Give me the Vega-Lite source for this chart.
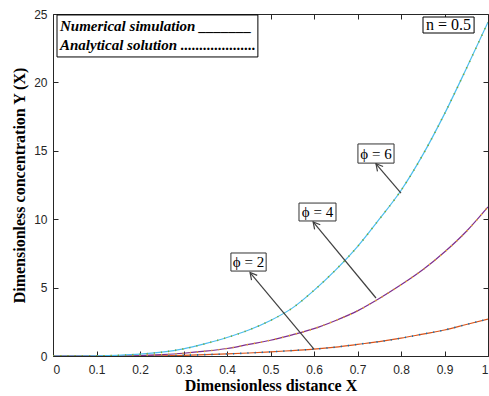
{
  "$schema": "https://vega.github.io/schema/vega-lite/v6.json",
  "width": 435,
  "height": 342,
  "autosize": "none",
  "padding": {"left": 53, "top": 14, "right": 1, "bottom": 40},
  "background": "white",
  "config": {
    "view": {"stroke": null},
    "axis": {
      "domainColor": "#262626",
      "tickColor": "#262626",
      "labelColor": "#262626",
      "labelFont": "Liberation Sans",
      "labelFontSize": 12,
      "labelFontWeight": "normal",
      "tickSize": -5,
      "grid": false,
      "titleFont": "Liberation Serif",
      "titleFontSize": 16,
      "titleFontWeight": "bold",
      "titleColor": "#000000"
    }
  },
  "datasets": {
    "profiles": [
      {"X": 0.0, "phi": 2, "Y": 0.0}, {"X": 0.05, "phi": 2, "Y": 0.0}, {"X": 0.1, "phi": 2, "Y": 0.0},
      {"X": 0.15, "phi": 2, "Y": 0.0}, {"X": 0.2, "phi": 2, "Y": 0.0}, {"X": 0.25, "phi": 2, "Y": 0.02},
      {"X": 0.3, "phi": 2, "Y": 0.05}, {"X": 0.35, "phi": 2, "Y": 0.1}, {"X": 0.4, "phi": 2, "Y": 0.15},
      {"X": 0.45, "phi": 2, "Y": 0.22}, {"X": 0.5, "phi": 2, "Y": 0.3}, {"X": 0.55, "phi": 2, "Y": 0.4},
      {"X": 0.6, "phi": 2, "Y": 0.5}, {"X": 0.65, "phi": 2, "Y": 0.65}, {"X": 0.7, "phi": 2, "Y": 0.85},
      {"X": 0.75, "phi": 2, "Y": 1.05}, {"X": 0.8, "phi": 2, "Y": 1.3}, {"X": 0.85, "phi": 2, "Y": 1.6},
      {"X": 0.9, "phi": 2, "Y": 1.9}, {"X": 0.95, "phi": 2, "Y": 2.3}, {"X": 1.0, "phi": 2, "Y": 2.7},

      {"X": 0.0, "phi": 4, "Y": 0.0}, {"X": 0.05, "phi": 4, "Y": 0.0}, {"X": 0.1, "phi": 4, "Y": 0.0},
      {"X": 0.15, "phi": 4, "Y": 0.0}, {"X": 0.2, "phi": 4, "Y": 0.03}, {"X": 0.25, "phi": 4, "Y": 0.1},
      {"X": 0.3, "phi": 4, "Y": 0.2}, {"X": 0.35, "phi": 4, "Y": 0.35}, {"X": 0.4, "phi": 4, "Y": 0.55},
      {"X": 0.45, "phi": 4, "Y": 0.85}, {"X": 0.5, "phi": 4, "Y": 1.15}, {"X": 0.55, "phi": 4, "Y": 1.55},
      {"X": 0.6, "phi": 4, "Y": 2.0}, {"X": 0.65, "phi": 4, "Y": 2.6}, {"X": 0.7, "phi": 4, "Y": 3.3},
      {"X": 0.75, "phi": 4, "Y": 4.2}, {"X": 0.8, "phi": 4, "Y": 5.2}, {"X": 0.85, "phi": 4, "Y": 6.3},
      {"X": 0.9, "phi": 4, "Y": 7.6}, {"X": 0.95, "phi": 4, "Y": 9.1}, {"X": 1.0, "phi": 4, "Y": 10.9},

      {"X": 0.0, "phi": 6, "Y": 0.0}, {"X": 0.05, "phi": 6, "Y": 0.0}, {"X": 0.1, "phi": 6, "Y": 0.01},
      {"X": 0.15, "phi": 6, "Y": 0.05}, {"X": 0.2, "phi": 6, "Y": 0.13}, {"X": 0.25, "phi": 6, "Y": 0.28},
      {"X": 0.3, "phi": 6, "Y": 0.52}, {"X": 0.35, "phi": 6, "Y": 0.9}, {"X": 0.4, "phi": 6, "Y": 1.35},
      {"X": 0.45, "phi": 6, "Y": 1.9}, {"X": 0.5, "phi": 6, "Y": 2.6}, {"X": 0.55, "phi": 6, "Y": 3.5},
      {"X": 0.6, "phi": 6, "Y": 4.8}, {"X": 0.65, "phi": 6, "Y": 6.3}, {"X": 0.7, "phi": 6, "Y": 8.0},
      {"X": 0.75, "phi": 6, "Y": 10.0}, {"X": 0.8, "phi": 6, "Y": 12.1}, {"X": 0.85, "phi": 6, "Y": 14.7},
      {"X": 0.9, "phi": 6, "Y": 17.7}, {"X": 0.95, "phi": 6, "Y": 21.0}, {"X": 1.0, "phi": 6, "Y": 24.4}
    ],
    "callouts": [
      {"label": "ϕ = 2", "bx1": 0.409, "bx2": 0.49, "by1": 7.53, "by2": 6.21, "tx": 0.4495, "ty": 6.87, "tipX": 0.453, "tipY": 6.1, "tailX": 0.6, "tailY": 0.5},
      {"label": "ϕ = 4", "bx1": 0.5655, "bx2": 0.6506, "by1": 11.18, "by2": 9.87, "tx": 0.608, "ty": 10.52, "tipX": 0.598, "tipY": 9.8, "tailX": 0.7425, "tailY": 4.24},
      {"label": "ϕ = 6", "bx1": 0.701, "bx2": 0.784, "by1": 15.5, "by2": 14.1, "tx": 0.7425, "ty": 14.8, "tipX": 0.7425, "tipY": 14.05, "tailX": 0.8, "tailY": 11.9}
    ],
    "legendBox": [
      {"x1": 0.0092, "x2": 0.471, "y1": 24.93, "y2": 21.86}
    ],
    "legendText": [
      {"X": 0.016, "Y": 23.76, "text": "Numerical simulation _______"},
      {"X": 0.016, "Y": 22.37, "text": "Analytical solution ...................."}
    ],
    "paramBox": [
      {"x1": 0.8506, "x2": 0.968, "y1": 24.78, "y2": 23.61, "X": 0.909, "Y": 24.2, "text": "n = 0.5"}
    ]
  },
  "layer": [
    {
      "layer": [
        {
          "data": {"name": "profiles"},
          "mark": {"type": "line", "strokeWidth": 1.2, "interpolate": "monotone", "clip": true},
          "encoding": {
            "x": {"field": "X", "type": "quantitative", "scale": {"domain": [0, 1], "nice": false},
                  "axis": {"values": [0, 0.1, 0.2, 0.3, 0.4, 0.5, 0.6, 0.7, 0.8, 0.9, 1], "format": "~g", "labelPadding": 13, "title": "Dimensionless distance   X", "titlePadding": 2}},
            "y": {"field": "Y", "type": "quantitative", "scale": {"domain": [0, 25], "nice": false},
                  "axis": {"values": [0, 5, 10, 15, 20, 25], "labelPadding": 11, "title": "Dimensionless concentration   Y (X)", "titlePadding": 6}},
            "color": {"field": "phi", "type": "nominal", "legend": null,
                      "scale": {"domain": [2, 4, 6], "range": ["#D95319", "#7E2F8E", "#4DBEEE"]}},
            "detail": {"field": "phi"}
          }
        },
        {
          "data": {"name": "profiles"},
          "mark": {"type": "line", "strokeWidth": 1.6, "strokeDash": [1.2, 6], "interpolate": "monotone", "clip": true},
          "encoding": {
            "x": {"field": "X", "type": "quantitative"},
            "y": {"field": "Y", "type": "quantitative"},
            "stroke": {"field": "phi", "type": "nominal", "legend": null,
                       "scale": {"domain": [2, 4, 6], "range": ["#0072BD", "#EDB120", "#77AC30"]}},
            "detail": {"field": "phi"}
          }
        },
        {
          "data": {"name": "callouts"},
          "mark": {"type": "rule", "color": "#404040", "strokeWidth": 1.2},
          "encoding": {
            "x": {"field": "tailX", "type": "quantitative"},
            "y": {"field": "tailY", "type": "quantitative"},
            "x2": {"field": "tipX"},
            "y2": {"field": "tipY"}
          }
        },
        {
          "data": {"name": "callouts"},
          "mark": {"type": "point", "shape": "M -0.55 1 L 0 0 L 0.55 1", "filled": false, "stroke": "#404040", "strokeWidth": 1.2, "size": 180, "angle": 320, "opacity": 1},
          "encoding": {
            "x": {"field": "tipX", "type": "quantitative"},
            "y": {"field": "tipY", "type": "quantitative"}
          }
        },
        {
          "data": {"name": "callouts"},
          "mark": {"type": "rect", "fill": "white", "stroke": "#333333", "strokeWidth": 1},
          "encoding": {
            "x": {"field": "bx1", "type": "quantitative"},
            "x2": {"field": "bx2"},
            "y": {"field": "by1", "type": "quantitative"},
            "y2": {"field": "by2"}
          }
        },
        {
          "data": {"name": "callouts"},
          "mark": {"type": "text", "font": "Liberation Serif", "fontSize": 15, "color": "#000000", "align": "center", "baseline": "middle"},
          "encoding": {
            "x": {"field": "tx", "type": "quantitative"},
            "y": {"field": "ty", "type": "quantitative"},
            "text": {"field": "label"}
          }
        },
        {
          "data": {"name": "legendBox"},
          "mark": {"type": "rect", "fill": "white", "stroke": "#000000", "strokeWidth": 1},
          "encoding": {
            "x": {"field": "x1", "type": "quantitative"},
            "x2": {"field": "x2"},
            "y": {"field": "y1", "type": "quantitative"},
            "y2": {"field": "y2"}
          }
        },
        {
          "data": {"name": "legendText"},
          "mark": {"type": "text", "font": "Liberation Serif", "fontSize": 15, "fontWeight": "bold", "fontStyle": "italic", "color": "#000000", "align": "left", "baseline": "alphabetic"},
          "encoding": {
            "x": {"field": "X", "type": "quantitative"},
            "y": {"field": "Y", "type": "quantitative"},
            "text": {"field": "text"}
          }
        },
        {
          "data": {"name": "paramBox"},
          "mark": {"type": "rect", "fill": "white", "stroke": "#000000", "strokeWidth": 1},
          "encoding": {
            "x": {"field": "x1", "type": "quantitative"},
            "x2": {"field": "x2"},
            "y": {"field": "y1", "type": "quantitative"},
            "y2": {"field": "y2"}
          }
        },
        {
          "data": {"name": "paramBox"},
          "mark": {"type": "text", "font": "Liberation Serif", "fontSize": 16, "color": "#000000", "align": "center", "baseline": "middle"},
          "encoding": {
            "x": {"field": "X", "type": "quantitative"},
            "y": {"field": "Y", "type": "quantitative"},
            "text": {"field": "text"}
          }
        }
      ],
      "resolve": {"scale": {"color": "independent", "stroke": "independent"}}
    },
    {
      "data": {"name": "profiles"},
      "mark": {"type": "point", "opacity": 0},
      "encoding": {
        "x": {"field": "X", "type": "quantitative", "scale": {"domain": [0, 1], "nice": false},
              "axis": {"orient": "top", "labels": false, "title": null, "values": [0, 0.1, 0.2, 0.3, 0.4, 0.5, 0.6, 0.7, 0.8, 0.9, 1]}},
        "y": {"field": "Y", "type": "quantitative", "scale": {"domain": [0, 25], "nice": false},
              "axis": {"orient": "right", "labels": false, "title": null, "values": [0, 5, 10, 15, 20, 25]}}
      }
    }
  ],
  "resolve": {"axis": {"x": "independent", "y": "independent"}}
}
